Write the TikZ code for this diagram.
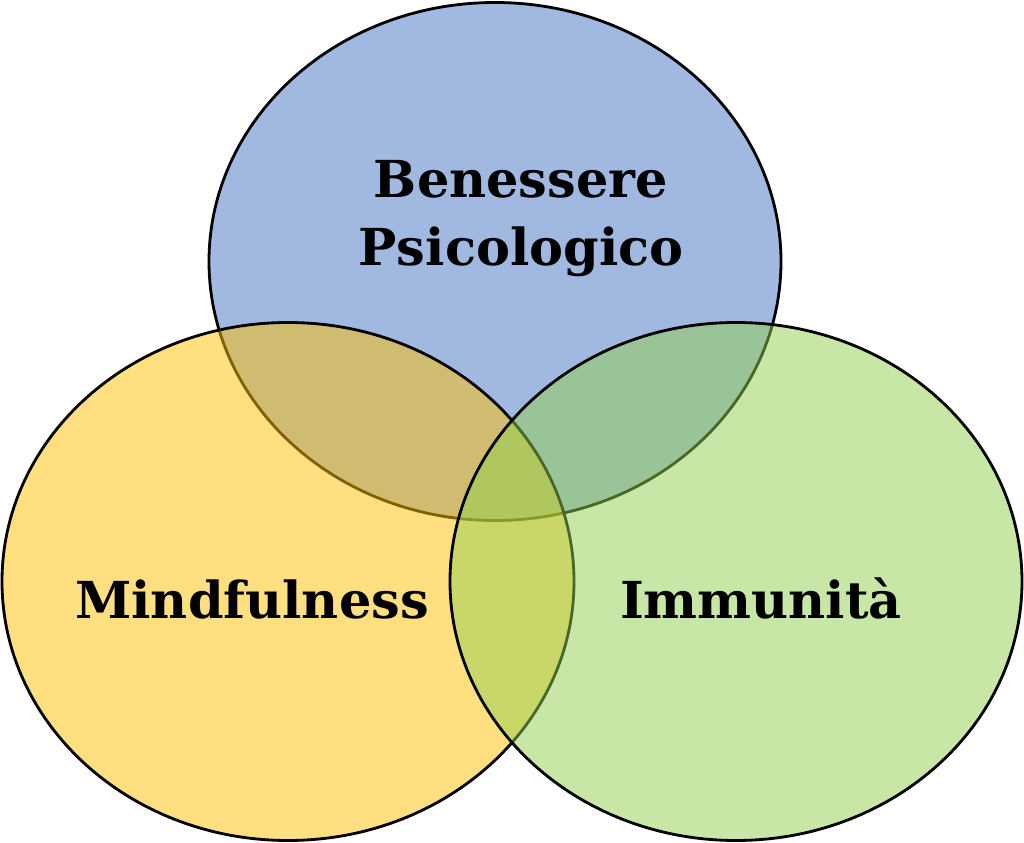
\documentclass[tikz,border=0pt]{standalone}
\usepackage{fontspec}
\setmainfont{DejaVu Serif}
\usetikzlibrary{shapes.geometric, positioning}

\definecolor{psiblue}{RGB}{68,114,196}
\definecolor{mindyellow}{RGB}{255,192,0}
\definecolor{immgreen}{RGB}{146,208,80}

\begin{document}
\begin{tikzpicture}[
        area/.style={draw, ellipse, line width=1.6pt, fill opacity=0.5, inner sep=0pt, minimum width=11.44cm, minimum height=10.36cm},
        title/.style={font=\bfseries\fontsize{29}{38.7}\selectfont, align=center}
    ]
        \useasboundingbox (0,0) rectangle (20.48,-16.86);

        % blue first, then yellow and green on top
        \node[area, fill=psiblue] (psi) at (9.90,-5.23) {};
        \node[area, fill=mindyellow] (mind) at (5.76,-11.63) {};
        \node[area, fill=immgreen] (imm) at (14.72,-11.63) {};

        \node[title] (psilbl) at (10.42,-4.37) {Benessere\\Psicologico};
        \node[title, anchor=base] (mindlbl) at (5.04,-12.36) {Mindfulness};
        \node[title, anchor=base] (immlbl) at (15.22,-12.36) {Immunità};
    \end{tikzpicture}
\end{document}
